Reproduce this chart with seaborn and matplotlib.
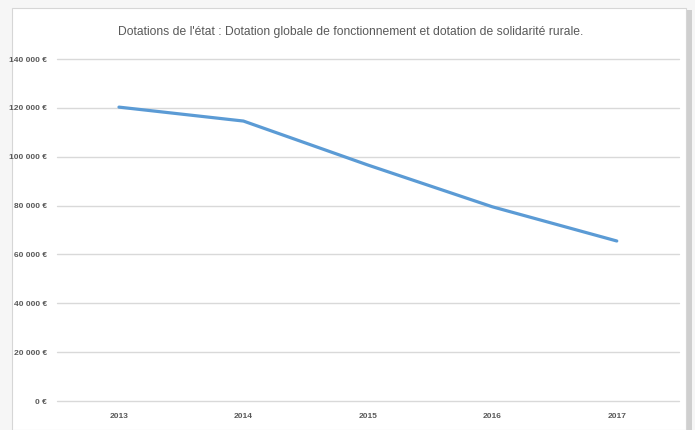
import matplotlib
matplotlib.use("Agg")
import matplotlib.pyplot as plt
import matplotlib.patches as mpatches
import seaborn as sns
import pandas as pd
from matplotlib.ticker import FuncFormatter

years = ["2013", "2014", "2015", "2016", "2017"]
dotations = [120300, 114600, 96600, 79500, 65500]
title = "Dotations de l'état : Dotation globale de fonctionnement et dotation de solidarité rurale."

sns.set_theme(style="white")
plt.rcParams['font.family'] = ['Liberation Sans', 'DejaVu Sans']

W, H = 695, 430
fig = plt.figure(figsize=(W / 100, H / 100), dpi=100)
fig.patch.set_facecolor("#f6f6f6")

# chart frame with shadow
shadow = mpatches.Rectangle((14 / W, 0), (678 / W), (420 / H), transform=fig.transFigure,
                            facecolor="#cfcfcf", edgecolor="none", zorder=-3)
frame = mpatches.Rectangle((12 / W, 0), (674 / W), (422 / H), transform=fig.transFigure,
                           facecolor="white", edgecolor="#d6d6d6", linewidth=0.8, zorder=-2)
fig.patches.extend([shadow, frame])

ax = fig.add_axes([56.75 / W, (H - 401) / H, (679 - 56.75) / W, (401 - 59) / H])
ax.set_facecolor("none")

df = pd.DataFrame({"year": years, "value": dotations})
sns.lineplot(data=df, x="year", y="value", ax=ax, color="#5B9BD5", linewidth=2.3, sort=False,
             zorder=3)

ax.set_xlim(-0.5, len(years) - 0.5)
ax.set_ylim(0, 140000)
ax.set_yticks(range(0, 140001, 20000))
ax.yaxis.set_major_formatter(FuncFormatter(lambda v, p: f"{int(v):,} €".replace(",", " ")))
ax.grid(axis="y", color="#d9d9d9", linewidth=1.0)
ax.grid(axis="x", visible=False)
for gl in ax.yaxis.get_gridlines():
    gl.set_clip_on(False)
for s in ax.spines.values():
    s.set_visible(False)
ax.set_xlabel("")
ax.set_ylabel("")
ax.tick_params(axis="both", length=0, labelsize=6, labelcolor="#595959")
ax.tick_params(axis="y", pad=7)
ax.tick_params(axis="x", pad=9)
for lbl in ax.get_xticklabels() + ax.get_yticklabels():
    lbl.set_fontweight("bold")

fig.text(351 / W, 1 - 32 / H, title, ha="center", va="center", fontsize=8.7, color="#595959")

fig.savefig("out.png", dpi=100, facecolor=fig.get_facecolor())
